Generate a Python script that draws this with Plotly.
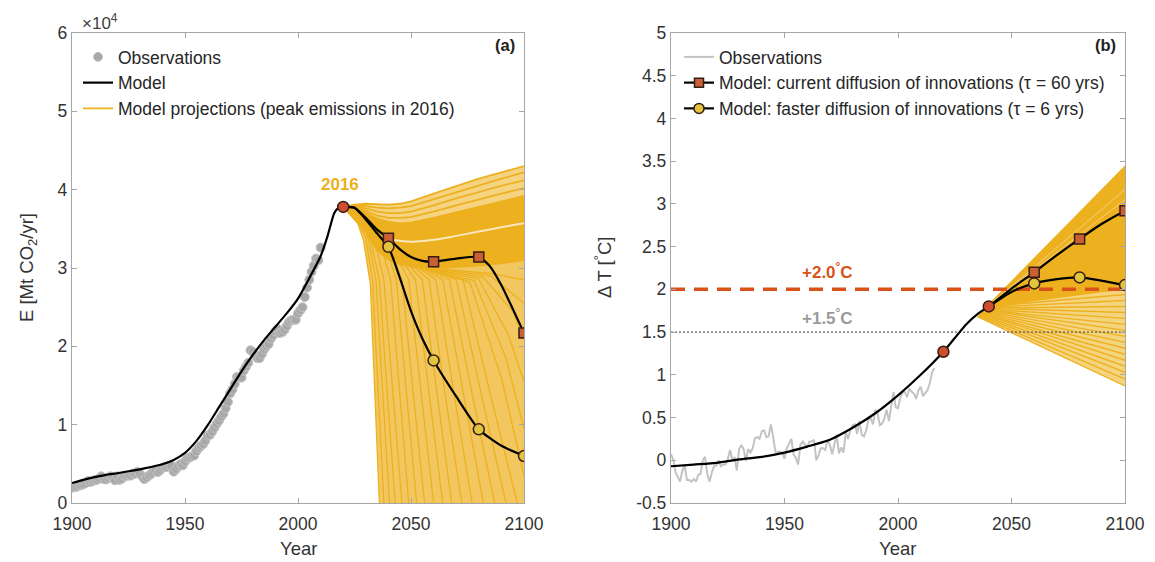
import plotly.graph_objects as go

# ---------------- DATA ----------------
# Panel (a): emissions in units of 10^4 Mt CO2/yr
OBS_A_YEARS = list(range(1900, 2011))
OBS_A_VALS = [
    0.195, 0.202, 0.207, 0.227, 0.227, 0.240, 0.253, 0.280, 0.268, 0.277,
    0.290, 0.295, 0.310, 0.340, 0.305, 0.300, 0.320, 0.340, 0.330, 0.290,
    0.340, 0.295, 0.310, 0.345, 0.345, 0.350, 0.350, 0.375, 0.375, 0.400,
    0.375, 0.340, 0.305, 0.325, 0.350, 0.370, 0.400, 0.420, 0.395, 0.420,
    0.450, 0.460, 0.460, 0.475, 0.475, 0.400, 0.430, 0.470, 0.495, 0.480,
    0.530, 0.570, 0.580, 0.595, 0.605, 0.660, 0.700, 0.730, 0.750, 0.795,
    0.860, 0.870, 0.910, 0.960, 1.010, 1.050, 1.100, 1.140, 1.210, 1.290,
    1.400, 1.450, 1.520, 1.610, 1.610, 1.600, 1.690, 1.740, 1.790, 1.950,
    1.930, 1.880, 1.850, 1.850, 1.900, 1.960, 2.000, 2.030, 2.100, 2.140,
    2.190, 2.220, 2.170, 2.180, 2.210, 2.260, 2.310, 2.330, 2.340, 2.340,
    2.420, 2.460, 2.500, 2.630, 2.750, 2.850, 2.950, 3.030, 3.120, 3.100,
    3.260,
]

MODEL_A_YEARS = [1900, 1905, 1910, 1915, 1920, 1925, 1930, 1935, 1940, 1945, 1950,
                 1955, 1960, 1965, 1970, 1975, 1980, 1985, 1990, 1995, 2000, 2005,
                 2010, 2013, 2016, 2018, 2020]
MODEL_A_VALS = [0.255, 0.295, 0.330, 0.360, 0.380, 0.405, 0.430, 0.460, 0.495, 0.550,
                0.640, 0.790, 0.990, 1.220, 1.450, 1.680, 1.890, 2.080, 2.250, 2.420,
                2.610, 2.870, 3.150, 3.400, 3.700, 3.770, 3.780]

TAU60_A_YEARS = [2020, 2025, 2030, 2035, 2040, 2045, 2050, 2055, 2060, 2070, 2080,
                 2085, 2090, 2095, 2100]
TAU60_A_VALS = [3.78, 3.77, 3.64, 3.49, 3.38, 3.24, 3.14, 3.09, 3.08, 3.12, 3.14,
                3.02, 2.78, 2.48, 2.17]
TAU6_A_YEARS = [2020, 2025, 2030, 2035, 2040, 2045, 2050, 2055, 2060, 2070, 2080, 2090, 2100]
TAU6_A_VALS = [3.78, 3.77, 3.62, 3.44, 3.27, 2.88, 2.45, 2.10, 1.82, 1.36, 0.94, 0.73, 0.60]

MARKER_YEARS = [2020, 2040, 2060, 2080, 2100]

# projection fan (a): upper group, values at PROJ_YEARS
PROJ_YEARS = [2020, 2025, 2030, 2035, 2040, 2045, 2050, 2060, 2070, 2080, 2090, 2100]
UPPER_A = [
    [3.78, 3.81, 3.82, 3.815, 3.81, 3.82, 3.85, 3.95, 4.05, 4.14, 4.22, 4.30],
    [3.78, 3.80, 3.79, 3.77, 3.76, 3.77, 3.79, 3.88, 3.97, 4.06, 4.14, 4.22],
    [3.78, 3.79, 3.76, 3.72, 3.70, 3.70, 3.72, 3.80, 3.89, 3.97, 4.05, 4.12],
    [3.78, 3.78, 3.73, 3.67, 3.64, 3.64, 3.65, 3.72, 3.80, 3.88, 3.95, 4.02],
    [3.78, 3.77, 3.70, 3.63, 3.59, 3.57, 3.58, 3.64, 3.71, 3.78, 3.85, 3.92],
    [3.78, 3.76, 3.67, 3.58, 3.53, 3.51, 3.51, 3.56, 3.63, 3.69, 3.76, 3.82],
    [3.78, 3.75, 3.64, 3.53, 3.47, 3.44, 3.44, 3.48, 3.54, 3.60, 3.66, 3.72],
    [3.78, 3.74, 3.61, 3.48, 3.41, 3.38, 3.37, 3.40, 3.45, 3.51, 3.57, 3.62],
    [3.78, 3.73, 3.58, 3.43, 3.35, 3.31, 3.30, 3.32, 3.37, 3.42, 3.47, 3.52],
    [3.78, 3.72, 3.55, 3.38, 3.29, 3.25, 3.23, 3.24, 3.28, 3.32, 3.37, 3.42],
    [3.78, 3.71, 3.52, 3.33, 3.23, 3.18, 3.16, 3.16, 3.19, 3.23, 3.27, 3.32],
    [3.78, 3.70, 3.49, 3.28, 3.17, 3.11, 3.09, 3.08, 3.10, 3.13, 3.17, 3.21],
    [3.78, 3.69, 3.46, 3.23, 3.11, 3.05, 3.02, 3.00, 3.01, 3.03, 3.06, 3.10],
]
GAP_A_YEARS = [2040, 2050, 2060, 2070, 2080, 2090, 2100]
GAP_A_VALS = [3.37, 3.335, 3.36, 3.41, 3.465, 3.52, 3.57]

# projection fan (a): falling group, each line as (years, values)
DROP_A = [
    ([2020, 2025, 2029, 2032, 2034, 2036], [3.78, 3.70, 3.35, 2.80, 1.40, 0.0]),
    ([2020, 2025, 2030, 2033, 2035.5, 2038], [3.78, 3.72, 3.38, 2.85, 1.40, 0.0]),
    ([2020, 2026, 2031, 2034.5, 2037.5, 2040.5], [3.78, 3.72, 3.38, 2.85, 1.40, 0.0]),
    ([2020, 2027, 2032, 2036, 2039.5, 2043], [3.78, 3.72, 3.38, 2.85, 1.40, 0.0]),
    ([2020, 2028, 2034, 2038, 2042, 2046], [3.78, 3.70, 3.36, 2.85, 1.40, 0.0]),
    ([2020, 2029, 2036, 2041, 2045, 2049], [3.78, 3.68, 3.35, 2.85, 1.40, 0.0]),
    ([2020, 2030, 2038, 2043.5, 2048, 2052.5], [3.78, 3.66, 3.34, 2.85, 1.40, 0.0]),
    ([2020, 2030, 2040, 2046, 2051, 2056], [3.78, 3.64, 3.32, 2.85, 1.40, 0.0]),
    ([2020, 2030, 2041, 2049, 2054.5, 2060], [3.78, 3.62, 3.28, 2.85, 1.40, 0.0]),
    ([2020, 2030, 2042, 2052, 2058, 2064], [3.78, 3.60, 3.25, 2.85, 1.40, 0.0]),
    ([2020, 2030, 2043, 2055, 2061.5, 2068], [3.78, 3.58, 3.22, 2.85, 1.40, 0.0]),
    ([2020, 2030, 2045, 2058, 2065, 2072.5], [3.78, 3.57, 3.18, 2.85, 1.40, 0.0]),
    ([2020, 2030, 2046, 2061, 2069, 2077], [3.78, 3.55, 3.15, 2.85, 1.40, 0.0]),
    ([2020, 2030, 2047, 2064, 2073, 2082], [3.78, 3.54, 3.12, 2.85, 1.40, 0.0]),
    ([2020, 2030, 2048, 2067, 2077, 2087], [3.78, 3.52, 3.10, 2.85, 1.40, 0.0]),
    ([2020, 2030, 2049, 2070, 2081, 2092], [3.78, 3.50, 3.08, 2.85, 1.40, 0.0]),
    ([2020, 2030, 2050, 2073, 2085, 2097], [3.78, 3.49, 3.06, 2.85, 1.40, 0.0]),
    ([2020, 2030, 2050, 2076, 2090, 2100], [3.78, 3.48, 3.04, 2.82, 1.60, 0.35]),
    ([2020, 2030, 2050, 2078, 2092, 2100], [3.78, 3.47, 3.03, 2.84, 1.85, 0.95]),
    ([2020, 2030, 2050, 2080, 2093, 2100], [3.78, 3.47, 3.03, 2.86, 2.15, 1.55]),
    ([2020, 2030, 2050, 2082, 2095, 2100], [3.78, 3.46, 3.02, 2.88, 2.45, 2.10]),
    ([2020, 2030, 2050, 2085, 2100], [3.78, 3.46, 3.02, 2.90, 2.55]),
    ([2020, 2030, 2050, 2085, 2100], [3.78, 3.46, 3.02, 2.93, 2.85]),
]

# Panel (b): temperature anomaly, degC
OBS_B_YEARS = list(range(1900, 2017))
OBS_B_VALS = [
    0.07, 0.01, -0.14, -0.20, -0.25, -0.12, -0.06, -0.23, -0.23, -0.25,
    -0.22, -0.25, -0.17, -0.16, 0.00, 0.04, -0.16, -0.25, -0.14, -0.07,
    -0.06, 0.00, -0.07, -0.05, -0.05, 0.01, 0.12, 0.01, 0.03, -0.12,
    0.13, 0.18, 0.13, -0.01, 0.13, 0.09, 0.14, 0.26, 0.27, 0.25,
    0.34, 0.35, 0.27, 0.28, 0.42, 0.27, 0.10, 0.10, 0.10, 0.09,
    0.02, 0.14, 0.20, 0.25, 0.07, 0.03, -0.05, 0.18, 0.22, 0.19,
    0.15, 0.22, 0.22, 0.24, 0.00, 0.06, 0.14, 0.14, 0.12, 0.24,
    0.18, 0.07, 0.19, 0.30, 0.08, 0.15, 0.09, 0.33, 0.25, 0.35,
    0.41, 0.42, 0.31, 0.46, 0.30, 0.28, 0.35, 0.48, 0.49, 0.42,
    0.59, 0.55, 0.41, 0.43, 0.49, 0.59, 0.46, 0.65, 0.80, 0.62,
    0.61, 0.73, 0.79, 0.80, 0.74, 0.84, 0.80, 0.78, 0.72, 0.82,
    0.86, 0.75, 0.79, 0.82, 0.90, 1.03, 1.08,
]
MODEL_B_YEARS = [1900, 1910, 1920, 1930, 1940, 1950, 1960, 1970, 1980, 1990, 2000,
                 2010, 2020, 2025, 2030, 2035, 2040]
MODEL_B_VALS = [-0.07, -0.05, -0.03, 0.01, 0.04, 0.09, 0.16, 0.24, 0.38, 0.55, 0.76,
                1.00, 1.27, 1.43, 1.59, 1.71, 1.80]
BRANCH_B_YEARS = [2040, 2050, 2060, 2070, 2080, 2090, 2100]
TAU60_B_VALS = [1.80, 2.01, 2.20, 2.40, 2.59, 2.77, 2.92]
TAU6_B_VALS = [1.80, 1.97, 2.07, 2.12, 2.14, 2.10, 2.05]

# projection fan (b): straight lines (start year, start value, value in 2100)
FAN_B_START_YEAR = [2035.0, 2035.3, 2035.6, 2036.0, 2036.3, 2036.6, 2037.0, 2037.3, 2037.6,
                    2038.0, 2038.3, 2038.6, 2039.0, 2039.3, 2039.6, 2040.0, 2040.0]
FAN_B_START_VAL = [1.68, 1.69, 1.70, 1.71, 1.72, 1.72, 1.73, 1.74, 1.75,
                   1.76, 1.76, 1.77, 1.78, 1.78, 1.79, 1.80, 1.80]
FAN_B_END_VAL = [0.87, 0.95, 1.03, 1.10, 1.17, 1.24, 1.31, 1.38, 1.45,
                 1.52, 1.59, 1.66, 1.73, 1.80, 1.87, 1.94, 2.01]
FAN_B_TOP = ([2037.0, 2100.0], [1.75, 3.45])      # upper edge of the dense part
FAN_B_DENSE_LOW = ([2040.0, 2100.0], [1.80, 2.00])  # lower edge of the dense part
FAN_B_STREAKS = [([2041.0, 2100.0], [1.83, 3.17]), ([2042.0, 2100.0], [1.86, 3.05])]

TARGETS = [2.0, 1.5]

X_TICKS = [1900, 1950, 2000, 2050, 2100]
YA_TICKS = [0, 1, 2, 3, 4, 5, 6]
YB_TICKS = [-0.5, 0, 0.5, 1, 1.5, 2, 2.5, 3, 3.5, 4, 4.5, 5]
YB_TICKTEXT = ["-0.5", "0", "0.5", "1", "1.5", "2", "2.5", "3", "3.5", "4", "4.5", "5"]

# ---------------- STYLE ----------------
FONT = "Liberation Sans, Arial, sans-serif"
ORANGE = "#EDB120"
LIGHT_A = "rgb(242,199,95)"
LIGHT_BAND_A = "rgb(245,211,128)"
LIGHT_B = "rgb(245,212,128)"
RED = "rgb(217,83,25)"
SQ_FILL = "rgb(200,96,52)"
CIR_FILL = "rgb(226,196,62)"
RED_FILL = "rgb(208,78,45)"
EDGE = "rgb(55,30,20)"

W, H, OFF = 1155, 562, 8   # page body margin shifts the figure by 8 px


def px(x):
    return (x - OFF) / W


def py(y):
    return 1 - (y - OFF) / H


fig = go.Figure()


def poly(x, y, color, xa="x", ya="y"):
    fig.add_trace(go.Scatter(x=x, y=y, mode="lines", fill="toself", fillcolor=color,
                             line=dict(width=0), hoverinfo="skip", showlegend=False,
                             xaxis=xa, yaxis=ya))


# ---------- Panel (a) ----------
d1x, d1y = DROP_A[0]
poly(PROJ_YEARS + [2100] + d1x[::-1], UPPER_A[0] + [0.0] + d1y[::-1], LIGHT_A)
for xs, ys in DROP_A:
    fig.add_trace(go.Scatter(x=xs, y=ys, mode="lines", line=dict(color=ORANGE, width=1.3),
                             hoverinfo="skip", showlegend=False, xaxis="x", yaxis="y"))
poly(PROJ_YEARS + PROJ_YEARS[::-1], UPPER_A[0] + UPPER_A[4][::-1], LIGHT_BAND_A)
poly(PROJ_YEARS + PROJ_YEARS[::-1], UPPER_A[4] + UPPER_A[-1][::-1], ORANGE)
for i, ys in enumerate(UPPER_A):
    fig.add_trace(go.Scatter(x=PROJ_YEARS, y=ys, mode="lines",
                             line=dict(color=ORANGE, width=1.8),
                             name="Model projections (peak emissions in 2016)",
                             showlegend=(i == 0), legend="legend", legendrank=3,
                             hoverinfo="skip", xaxis="x", yaxis="y"))
fig.add_trace(go.Scatter(x=GAP_A_YEARS, y=GAP_A_VALS, mode="lines",
                         line=dict(color="rgba(255,255,255,0.7)", width=2.0, shape="spline"),
                         hoverinfo="skip", showlegend=False, xaxis="x", yaxis="y"))

fig.add_trace(go.Scatter(x=OBS_A_YEARS, y=OBS_A_VALS, mode="markers", name="Observations",
                         marker=dict(size=9, color="rgb(168,168,168)",
                                     line=dict(color="rgb(195,195,195)", width=1)),
                         legend="legend", legendrank=1, xaxis="x", yaxis="y"))
fig.add_trace(go.Scatter(x=MODEL_A_YEARS, y=MODEL_A_VALS, mode="lines", name="Model",
                         line=dict(color="black", width=2.2, shape="spline", smoothing=0.5),
                         legend="legend", legendrank=2, xaxis="x", yaxis="y"))
for yrs, vals in [(TAU60_A_YEARS, TAU60_A_VALS), (TAU6_A_YEARS, TAU6_A_VALS)]:
    fig.add_trace(go.Scatter(x=yrs, y=vals, mode="lines",
                             line=dict(color="black", width=2.2, shape="spline", smoothing=0.6),
                             showlegend=False, xaxis="x", yaxis="y"))
t60a = dict(zip(TAU60_A_YEARS, TAU60_A_VALS))
t6a = dict(zip(TAU6_A_YEARS, TAU6_A_VALS))
fig.add_trace(go.Scatter(x=MARKER_YEARS[1:], y=[t60a[y] for y in MARKER_YEARS[1:]],
                         mode="markers", marker=dict(symbol="square", size=10, color=SQ_FILL,
                                                     line=dict(color=EDGE, width=1.5)),
                         showlegend=False, xaxis="x", yaxis="y"))
fig.add_trace(go.Scatter(x=MARKER_YEARS[1:], y=[t6a[y] for y in MARKER_YEARS[1:]],
                         mode="markers", marker=dict(symbol="circle", size=11, color=CIR_FILL,
                                                     line=dict(color=EDGE, width=1.5)),
                         showlegend=False, xaxis="x", yaxis="y"))
fig.add_trace(go.Scatter(x=MARKER_YEARS[:1], y=[t60a[MARKER_YEARS[0]]],
                         mode="markers", marker=dict(symbol="circle", size=11, color=RED_FILL,
                                                     line=dict(color=EDGE, width=1.5)),
                         showlegend=False, xaxis="x", yaxis="y"))

# ---------- Panel (b) ----------
poly([FAN_B_START_YEAR[0], FAN_B_TOP[0][0], FAN_B_TOP[0][1], 2100],
     [FAN_B_START_VAL[0], FAN_B_TOP[1][0], FAN_B_TOP[1][1], FAN_B_END_VAL[0]],
     LIGHT_B, "x2", "y2")
for sx, sv, ev in zip(FAN_B_START_YEAR, FAN_B_START_VAL, FAN_B_END_VAL):
    fig.add_trace(go.Scatter(x=[sx, 2100], y=[sv, ev], mode="lines",
                             line=dict(color=ORANGE, width=1.4), hoverinfo="skip",
                             showlegend=False, xaxis="x2", yaxis="y2"))
poly(FAN_B_TOP[0] + FAN_B_DENSE_LOW[0][::-1], FAN_B_TOP[1] + FAN_B_DENSE_LOW[1][::-1],
     ORANGE, "x2", "y2")
for xs, ys in FAN_B_STREAKS:
    fig.add_trace(go.Scatter(x=xs, y=ys, mode="lines",
                             line=dict(color="rgba(255,255,255,0.4)", width=1),
                             hoverinfo="skip", showlegend=False, xaxis="x2", yaxis="y2"))

fig.add_trace(go.Scatter(x=[1900, 2100], y=[TARGETS[1], TARGETS[1]], mode="lines",
                         line=dict(color="rgb(90,90,90)", width=1.3, dash="2px,2px"),
                         showlegend=False, xaxis="x2", yaxis="y2"))
fig.add_trace(go.Scatter(x=[1900, 2100], y=[TARGETS[0], TARGETS[0]], mode="lines",
                         line=dict(color=RED, width=3.5, dash="14px,9px"),
                         showlegend=False, xaxis="x2", yaxis="y2"))

fig.add_trace(go.Scatter(x=OBS_B_YEARS, y=OBS_B_VALS, mode="lines", name="Observations",
                         line=dict(color="rgb(195,195,195)", width=2),
                         legend="legend2", legendrank=1, xaxis="x2", yaxis="y2"))
fig.add_trace(go.Scatter(x=MODEL_B_YEARS, y=MODEL_B_VALS, mode="lines",
                         line=dict(color="black", width=2.2, shape="spline", smoothing=0.6),
                         showlegend=False, xaxis="x2", yaxis="y2"))
for vals in [TAU60_B_VALS, TAU6_B_VALS]:
    fig.add_trace(go.Scatter(x=BRANCH_B_YEARS, y=vals, mode="lines",
                             line=dict(color="black", width=2.2, shape="spline", smoothing=0.6),
                             showlegend=False, xaxis="x2", yaxis="y2"))
mb = dict(zip(MODEL_B_YEARS, MODEL_B_VALS))
t60b = dict(zip(BRANCH_B_YEARS, TAU60_B_VALS))
t6b = dict(zip(BRANCH_B_YEARS, TAU6_B_VALS))
fig.add_trace(go.Scatter(x=MARKER_YEARS[2:], y=[t60b[y] for y in MARKER_YEARS[2:]],
                         mode="markers", marker=dict(symbol="square", size=10, color=SQ_FILL,
                                                     line=dict(color=EDGE, width=1.5)),
                         showlegend=False, xaxis="x2", yaxis="y2"))
fig.add_trace(go.Scatter(x=MARKER_YEARS[2:], y=[t6b[y] for y in MARKER_YEARS[2:]],
                         mode="markers", marker=dict(symbol="circle", size=11, color=CIR_FILL,
                                                     line=dict(color=EDGE, width=1.5)),
                         showlegend=False, xaxis="x2", yaxis="y2"))
fig.add_trace(go.Scatter(x=MARKER_YEARS[:2], y=[mb[y] for y in MARKER_YEARS[:2]],
                         mode="markers", marker=dict(symbol="circle", size=11, color=RED_FILL,
                                                     line=dict(color=EDGE, width=1.5)),
                         showlegend=False, xaxis="x2", yaxis="y2"))
# legend entries for panel (b)
fig.add_trace(go.Scatter(x=[None], y=[None], mode="lines+markers",
                         name="Model: current diffusion of innovations (\u03c4 = 60 yrs)",
                         line=dict(color="black", width=2.2),
                         marker=dict(symbol="square", size=9, color=SQ_FILL,
                                     line=dict(color=EDGE, width=1.5)),
                         legend="legend2", legendrank=2, xaxis="x2", yaxis="y2"))
fig.add_trace(go.Scatter(x=[None], y=[None], mode="lines+markers",
                         name="Model: faster diffusion of innovations (\u03c4 = 6 yrs)",
                         line=dict(color="black", width=2.2),
                         marker=dict(symbol="circle", size=10, color=CIR_FILL,
                                     line=dict(color=EDGE, width=1.5)),
                         legend="legend2", legendrank=3, xaxis="x2", yaxis="y2"))

# ---------------- LAYOUT ----------------
axis_common = dict(showline=True, linecolor="#a6a6a6", linewidth=1.3, mirror="ticks",
                   ticks="inside", ticklen=5, tickcolor="#a6a6a6", tickwidth=1,
                   showgrid=False, zeroline=False, automargin=False,
                   tickfont=dict(family=FONT, size=17.5, color="#333333"))
XD_A = [px(72), px(524)]
XD_B = [px(671), px(1125)]
YD = [py(503), py(33)]
LEG_FONT = dict(family=FONT, size=17.5, color="#262626")

fig.update_layout(
    width=W, height=H, margin=dict(l=0, r=0, t=0, b=0),
    paper_bgcolor="white", plot_bgcolor="white",
    font=dict(family=FONT, color="#333333"),
    xaxis=dict(domain=XD_A, range=[1900, 2100], tickvals=X_TICKS, anchor="y",
               ticklabelstandoff=5, **axis_common),
    yaxis=dict(domain=YD, range=[0, 6], tickvals=YA_TICKS, anchor="x", **axis_common),
    xaxis2=dict(domain=XD_B, range=[1900, 2100], tickvals=X_TICKS, anchor="y2",
                ticklabelstandoff=5, **axis_common),
    yaxis2=dict(domain=YD, range=[-0.5, 5], tickvals=YB_TICKS, ticktext=YB_TICKTEXT,
                anchor="x2", **axis_common),
    legend=dict(x=px(78), y=py(39), xanchor="left", yanchor="top",
                bgcolor="rgba(0,0,0,0)", font=LEG_FONT, tracegroupgap=0),
    legend2=dict(x=px(679), y=py(39), xanchor="left", yanchor="top",
                 bgcolor="rgba(0,0,0,0)", font=LEG_FONT, tracegroupgap=0),
    showlegend=True,
)

ann = [
    dict(text="\u00d710<sup>4</sup>", x=px(80), y=py(22), xanchor="left", yanchor="middle",
         font=dict(size=17, color="#404040")),
    dict(text="<b>(a)</b>", x=px(517), y=py(45), xanchor="right", yanchor="middle",
         font=dict(size=16.5, color="#222")),
    dict(text="<b>(b)</b>", x=px(1118), y=py(45), xanchor="right", yanchor="middle",
         font=dict(size=16.5, color="#222")),
    dict(text="Year", x=px(298), y=py(548), xanchor="center", yanchor="middle",
         font=dict(size=18.5, color="#333")),
    dict(text="Year", x=px(897), y=py(548), xanchor="center", yanchor="middle",
         font=dict(size=18.5, color="#333")),
    dict(text="E [Mt CO<sub>2</sub>/yr]", x=px(28), y=py(268), xanchor="center",
         yanchor="middle", textangle=-90, font=dict(size=18.5, color="#333")),
    dict(text="\u0394 T [<sup>\u00b0</sup>C]", x=px(603), y=py(268), xanchor="center",
         yanchor="middle", textangle=-90, font=dict(size=18.5, color="#333")),
]
for a in ann:
    a.update(xref="paper", yref="paper", showarrow=False)
ann += [
    dict(text="<b>2016</b>", x=2018.5, y=4.07, xref="x", yref="y", showarrow=False,
         xanchor="center", yanchor="middle", font=dict(size=17, color=ORANGE)),
    dict(text="<b>+2.0<sup>\u00b0</sup>C</b>", x=1969, y=2.22, xref="x2", yref="y2",
         showarrow=False, xanchor="center", yanchor="middle", font=dict(size=17, color=RED)),
    dict(text="<b>+1.5<sup>\u00b0</sup>C</b>", x=1969, y=1.68, xref="x2", yref="y2",
         showarrow=False, xanchor="center", yanchor="middle",
         font=dict(size=17, color="#9a9a9a")),
]
fig.update_layout(annotations=ann)

fig.write_html("out.html")
